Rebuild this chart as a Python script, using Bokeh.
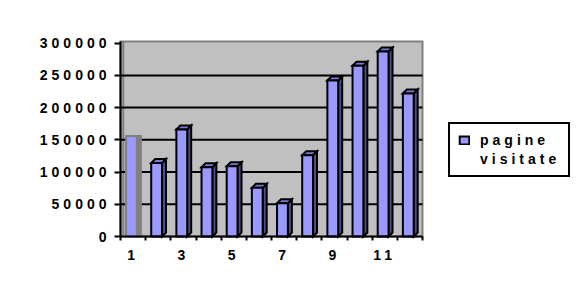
from bokeh.plotting import figure
from bokeh.models import FixedTicker, Legend, LegendItem, Range1d, LinearAxis
from bokeh.embed import file_html
from bokeh.resources import INLINE

# ---------------- data ----------------
categories = list(range(1, 13))
visits = [156000, 114000, 166000, 107500, 109000, 75500,
          51500, 126000, 242000, 265000, 287000, 222000]
y_ticks = [0, 50000, 100000, 150000, 200000, 250000, 300000]
y_tick_labels = ["0", "50000", "100000", "150000", "200000", "250000", "300000"]
x_tick_values = [1, 3, 5, 7, 9, 11]
x_tick_labels = ["1", "3", "5", "7", "9", "11"]
legend_lines = ["pagine", "visitate"]
highlighted = [1]          # category drawn as "selected" (grey outline)

# ---------------- style / geometry ----------------
W, H = 584, 303
FONT = "Liberation Sans"
FRONT = "#9999FF"
SIDE = "#4D4D8C"
TOP = "#7A7AD6"
WALL = "#C0C0C0"
EDGE = "#808080"
LS = 4                     # letter spacing (px)
X0, X1 = 0.5, 12.5         # category extent
Y_END = 302600             # top of the back wall
PIX_X0, PIX_X1 = 120, 422  # pixels of X0 / X1
PIX_Y0, PIX_YE = 236, 41   # pixels of 0 / Y_END
PX_PER_X = (PIX_X1 - PIX_X0) / (X1 - X0)
PX_PER_Y = (PIX_Y0 - PIX_YE) / Y_END
DX = 4 / PX_PER_X          # bar depth
DY = 4 / PX_PER_Y
FL, FR = -0.28, 0.15

# the frame spans the whole canvas, so nothing is clipped
p = figure(width=W, height=H, output_backend="svg", toolbar_location=None,
           title=None,
           x_range=Range1d(X0 - PIX_X0 / PX_PER_X, X0 + (W - PIX_X0) / PX_PER_X),
           y_range=Range1d(-(H - PIX_Y0) / PX_PER_Y, PIX_Y0 / PX_PER_Y),
           min_border=0,
           background_fill_color="white", border_fill_color="white",
           outline_line_color=None,
           styles={"letter-spacing": f"{LS}px"})
p.xgrid.visible = False
p.ygrid.visible = False

# back wall with grey rim
p.quad(left=[X0], right=[X1], bottom=[0], top=[Y_END],
       fill_color=WALL, line_color=EDGE, line_width=2, line_join="miter")
# left wall edge line
p.segment(x0=[X0 + DX * 0.7], y0=[0], x1=[X0 + DX * 0.7], y1=[Y_END],
          line_color=EDGE, line_width=2)
# gridlines on the wall
grid_vals = y_ticks[1:-1]
p.segment(x0=[X0] * len(grid_vals), y0=grid_vals, x1=[X1] * len(grid_vals),
          y1=grid_vals, line_color="black", line_width=2)


def draw(cats, vals, front_fill, side_fill, top_fill, line, dy):
    side_xs = [[c + FR, c + FR + DX, c + FR + DX, c + FR] for c in cats]
    side_ys = [[0, dy, v + dy, v] for v in vals]
    p.patches(xs=side_xs, ys=side_ys, fill_color=side_fill, line_color=line,
              line_width=2, line_join="miter")
    if dy:
        top_xs = [[c + FL, c + FL + DX, c + FR + DX, c + FR] for c in cats]
        top_ys = [[v, v + dy, v + dy, v] for v in vals]
        p.patches(xs=top_xs, ys=top_ys, fill_color=top_fill, line_color=line,
                  line_width=2, line_join="miter")
    return p.quad(left=[c + FL for c in cats], right=[c + FR for c in cats],
                  top=vals, bottom=[0] * len(cats), fill_color=front_fill,
                  line_color=line, line_width=2, line_join="miter")


norm_c = [c for c in categories if c not in highlighted]
norm_v = [v for c, v in zip(categories, visits) if c not in highlighted]
hi_c = [c for c in categories if c in highlighted]
hi_v = [v for c, v in zip(categories, visits) if c in highlighted]

main_r = draw(norm_c, norm_v, FRONT, SIDE, TOP, "black", DY)
draw(hi_c, hi_v, FRONT, EDGE, EDGE, EDGE, 0)

ghost = p.quad(left=[], right=[], top=[], bottom=[], fill_alpha=0, line_alpha=0)


def style_labels(ax):
    ax.major_label_text_font = FONT
    ax.major_label_text_font_style = "bold"
    ax.major_label_text_font_size = "14px"
    ax.major_label_text_color = "black"


def style_lines(ax):
    ax.axis_line_color = "black"
    ax.axis_line_width = 2
    ax.major_tick_line_color = "black"
    ax.major_tick_line_width = 2
    ax.minor_tick_line_color = "black"
    ax.minor_tick_line_width = 2


# ---------------- y axis: line + ticks ----------------
yax = p.yaxis[0]
yax.fixed_location = X0
yax.bounds = (0, Y_END)
yax.ticker = FixedTicker(ticks=y_ticks)
yax.major_label_overrides = {t: "" for t in y_ticks}
yax.major_tick_out = 6
yax.major_tick_in = 0
yax.minor_tick_out = 0
yax.minor_tick_in = 0
style_lines(yax)
style_labels(yax)

# y labels: one label-only axis per label length, so that the
# letter-spaced texts stay right-aligned on the same edge
LABEL_GAP = 14             # px between visible label end and the axis
for n in sorted(set(len(s) for s in y_tick_labels)):
    pairs = [(t, s) for t, s in zip(y_ticks, y_tick_labels) if len(s) == n]
    ax = LinearAxis(ticker=FixedTicker(ticks=[t for t, _ in pairs]),
                    major_label_overrides=dict(pairs),
                    fixed_location=X0,
                    axis_line_color=None, major_tick_line_color=None,
                    minor_tick_line_color=None,
                    major_tick_out=0, major_tick_in=0,
                    minor_tick_out=0, minor_tick_in=0,
                    major_label_standoff=LABEL_GAP + LS * (n - 1))
    style_labels(ax)
    p.add_layout(ax, "left")

# ---------------- x axis ----------------
X_LABEL_SHIFT = 2.0        # px, labels sit slightly left of the bar centres
x_pos = [v - (X_LABEL_SHIFT + LS / 2 * (len(s) - 1)) / PX_PER_X
         for v, s in zip(x_tick_values, x_tick_labels)]
xax = p.xaxis[0]
xax.fixed_location = 0
xax.bounds = (X0, X1)
xax.ticker = FixedTicker(ticks=x_pos,
                         minor_ticks=[c - 0.5 for c in categories] + [categories[-1] + 0.5])
xax.major_label_overrides = dict(zip(x_pos, x_tick_labels))
xax.major_tick_out = 0
xax.major_tick_in = 0
xax.minor_tick_out = 4
xax.minor_tick_in = 0
xax.major_label_standoff = 9
style_lines(xax)
style_labels(xax)

# ---------------- legend ----------------
legend = Legend(items=[LegendItem(label=legend_lines[0], renderers=[main_r]),
                       LegendItem(label=legend_lines[1], renderers=[ghost])],
                location=(448, H - 177), orientation="vertical",
                border_line_color="black", border_line_width=2,
                border_line_alpha=1.0,
                background_fill_color="white", background_fill_alpha=1.0,
                padding=8, spacing=3, margin=0,
                glyph_width=12, glyph_height=10, label_standoff=10,
                label_width=79, label_height=10,
                label_text_font=FONT, label_text_font_style="bold",
                label_text_font_size="14px", label_text_color="black")
p.add_layout(legend)

open("out.html", "w").write(file_html(p, INLINE))
